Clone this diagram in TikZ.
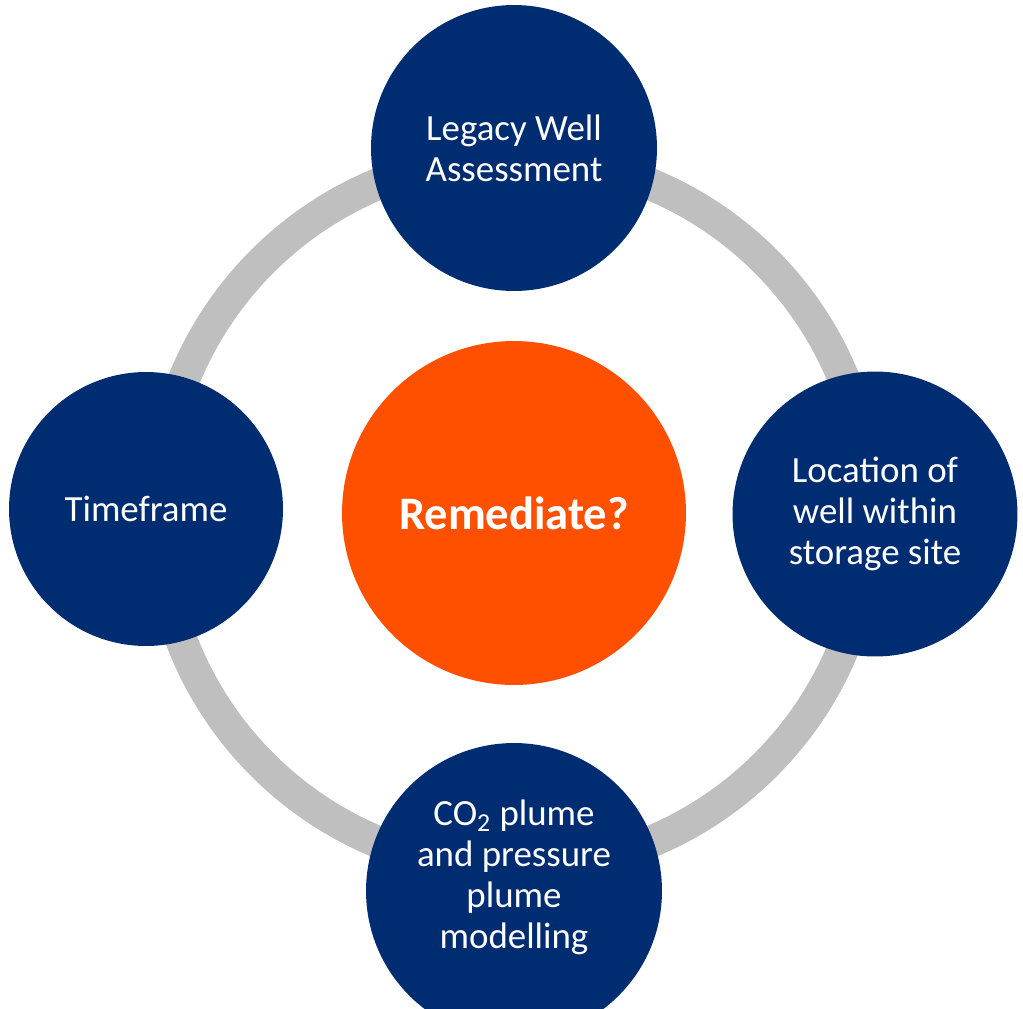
\documentclass[tikz,border=0pt]{standalone}
\usepackage{fontspec}
\setmainfont{Carlito}
\definecolor{navy}{RGB}{0,45,114}
\definecolor{tangerine}{RGB}{255,80,0}
\definecolor{ringgray}{RGB}{191,191,191}

\tikzstyle{factortext} = [text=white, align=center, font=\fontsize{21}{23.3}\selectfont]
\tikzstyle{factor} = [circle, fill=navy, inner sep=0pt, factortext]
\tikzstyle{decision} = [circle, fill=tangerine, text=white, inner sep=0pt,
    minimum size=6.88cm, font=\fontsize{26.5}{30}\selectfont\bfseries]
\tikzstyle{ring} = [draw=ringgray, line width=0.64cm]

\begin{document}
\begin{tikzpicture}[x=0.02cm, y=-0.02cm]
  \useasboundingbox (0,0) rectangle (1023,1008);
  \clip (0,0) rectangle (1023,1008);
  \node (remedy) [decision] at (514,513) {Remediate?};
  \draw [ring] (remedy.center) circle (7.12cm);
  \node (legacy) [factor, minimum size=5.72cm] at (514,148) {Legacy Well\\Assessment};
  \node (location) [factor, minimum size=5.7cm] at (875,514) {Location of\\well within\\storage site};
  \node (plume) [factor, minimum size=5.92cm,
    label={[factortext, yshift=0.27cm]center:{CO\textsubscript{2} plume\\and pressure\\plume\\modelling}}]
    at (514,891) {};
  \node (time) [factor, minimum size=5.48cm] at (146,509) {Timeframe};
\end{tikzpicture}
\end{document}
